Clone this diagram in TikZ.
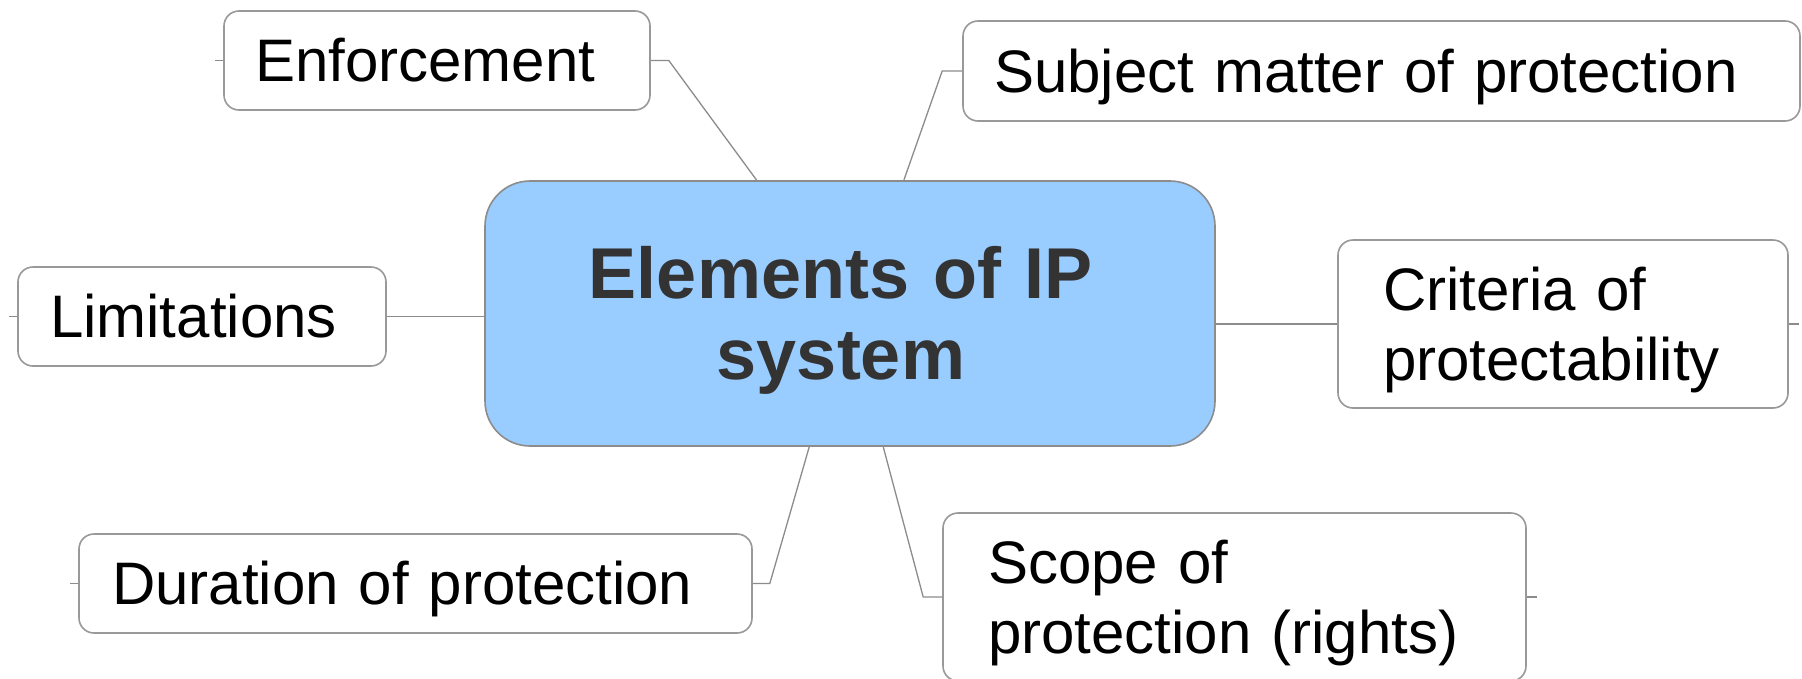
\documentclass[tikz,border=0pt]{standalone}
\usepackage{fontspec}
\setmainfont{Liberation Sans}
\usetikzlibrary{calc}
\definecolor{ctrfill}{HTML}{99CCFF}
\definecolor{ctrtext}{HTML}{333333}
\definecolor{edgegray}{HTML}{8C8C8C}
\definecolor{boxgray}{HTML}{999999}
\newcommand{\capline}[1]{\raisebox{0pt}[0.716em][0pt]{#1}}
\begin{document}
\begin{tikzpicture}[x=1pt,y=-1pt,
  leaf/.style={draw=boxgray, line width=1.6pt, fill=white, rounded corners=15pt,
    inner ysep=0pt, align=left, font=\fontsize{60}{70}\selectfont},
  hub/.style={draw=edgegray, line width=1.6pt, fill=ctrfill, rounded corners=45pt,
    inner sep=0pt, align=center, text=ctrtext, font=\fontsize{72}{81}\selectfont\bfseries,
    minimum width=730pt, minimum height=265pt, text width=700pt},
  link/.style={draw=edgegray, line width=1.3pt}]
\useasboundingbox (0,0) rectangle (1802,678);
\fill[white] (0,0) rectangle (1802,678);

\node[hub] (ctr) at (850,313.5) {\capline{Elements of IP\kern18pt}\\\capline{system\kern18pt}};

\node[leaf, minimum width=426pt, minimum height=99pt, inner xsep=31pt, text width=364pt] (enf) at (437,60.5) {\capline{Enforcement}};
\node[leaf, minimum width=837pt, minimum height=100pt, inner xsep=31pt, text width=775pt] (subj) at (1381.5,71) {\capline{Subject matter of protection}};
\node[leaf, minimum width=368pt, minimum height=99pt, inner xsep=32pt, text width=304pt] (lim) at (202,316.5) {\capline{Limitations}};
\node[leaf, minimum width=450pt, minimum height=168pt, inner xsep=45pt, text width=360pt] (crit) at (1563,324) {\capline{Criteria of}\\\capline{protectability}};
\node[leaf, minimum width=673pt, minimum height=99pt, inner xsep=33pt, text width=607pt] (dur) at (415.5,583.5) {\capline{Duration of protection}};
\node[leaf, minimum width=583pt, minimum height=168pt, inner xsep=45pt, text width=493pt] (scope) at (1234.5,597) {\capline{Scope of}\\\capline{protection (rights)}};

\draw[link] (ctr.125.6) -- ($(enf.east)+(18,0)$) -- (enf.east);
\draw[link] (ctr.68.9) -- ($(subj.west)+(-20,0)$) -- (subj.west);
\draw[link] (ctr.west |- lim.east) -- (lim.east);
\draw[link] (ctr.east |- crit.west) -- (crit.west);
\draw[link] (ctr.253.6) -- ($(dur.east)+(17,0)$) -- (dur.east);
\draw[link] (ctr.284.4) -- ($(scope.west)+(-19,0)$) -- (scope.west);

\coordinate (enfstub) at ($(enf.west)+(-8,0)$);
\coordinate (limstub) at ($(lim.west)+(-8,0)$);
\coordinate (critstub) at ($(crit.east)+(10,0)$);
\coordinate (durstub) at ($(dur.west)+(-8,0)$);
\coordinate (scopestub) at ($(scope.east)+(10,0)$);
\draw[link] (enf.west) -- (enfstub);
\draw[link] (lim.west) -- (limstub);
\draw[link] (crit.east) -- (critstub);
\draw[link] (dur.west) -- (durstub);
\draw[link] (scope.east) -- (scopestub);
\end{tikzpicture}
\end{document}
